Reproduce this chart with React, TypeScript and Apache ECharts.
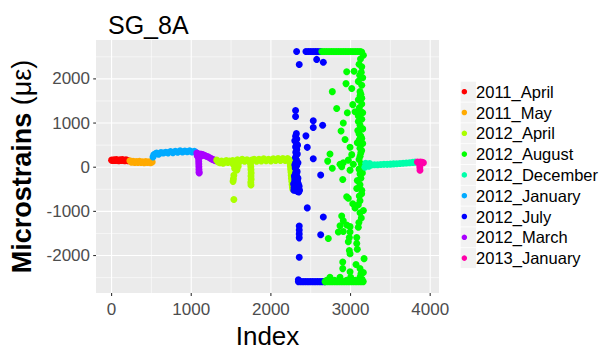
import React, { useEffect, useRef } from 'react';
import * as echarts from 'echarts';

const FONT = 'Liberation Sans, Arial, Helvetica, sans-serif';

// legend order (alphabetical, as in the reference) and colours
const legendOrder = ['2011_April', '2011_May', '2012_April', '2012_August', '2012_December', '2012_January', '2012_July', '2012_March', '2013_January'];
const legendColors = ['#FF0000', '#FFAA00', '#AAFF00', '#00FF00', '#00FFAA', '#00AAFF', '#0000FF', '#AA00FF', '#FF00AA'];
// drawing order (chronological, later points on top)
const drawOrder = ['2011_April', '2011_May', '2012_January', '2012_March', '2012_April', '2012_July', '2012_August', '2012_December', '2013_January'];

// tick values
const xMajorTicks = [0, 1000, 2000, 3000, 4000];
const xMinorTicks = [500, 1500, 2500, 3500];
const yMajorTicks = [-2000, -1000, 0, 1000, 2000];
const yMinorTicks = [-2500, -1500, -500, 500, 1500, 2500];

// [index, microstrain]
const apr2011 = [[0, 160], [15, 150], [30, 170], [45, 150], [60, 175], [75, 155], [90, 145], [105, 170], [120, 150], [135, 175], [150, 155], [165, 145], [180, 170], [195, 155], [205, 145]];
const may2011 = [[230, 145], [250, 115], [270, 135], [290, 105], [310, 130], [330, 110], [350, 135], [370, 105], [390, 125], [410, 100], [430, 130], [450, 105], [470, 125], [490, 100], [510, 120]];
const jan2012 = [[520, 230], [530, 280], [545, 300], [565, 320], [590, 295], [620, 330], [650, 320], [680, 340], [710, 325], [740, 355], [770, 330], [800, 360], [830, 340], [860, 370], [890, 345], [920, 365], [950, 350], [980, 370], [1010, 345], [1040, 360], [1060, 330]];
const mar2012 = [[1070, 320], [1075, 260], [1085, 300], [1090, 250], [1092, 190], [1094, 130], [1095, 70], [1096, 10], [1097, -50], [1098, -110], [1100, -130], [1100, 270], [1110, 300], [1120, 250], [1130, 290], [1150, 280], [1170, 265], [1190, 250], [1210, 235], [1230, 215], [1250, 195], [1270, 175], [1290, 160], [1310, 145]];
const apr2012 = [[1320, 160], [1340, 120], [1360, 100], [1380, 140], [1400, 90], [1420, 120], [1440, 150], [1460, 110], [1480, 140], [1500, 120], [1520, 150], [1550, 130], [1580, 170], [1610, 130], [1640, 180], [1670, 135], [1700, 170], [1730, 125], [1760, 160], [1790, 180], [1820, 135], [1850, 180], [1880, 140], [1910, 190], [1940, 145], [1970, 180], [2000, 140], [2030, 190], [2060, 150], [2090, 195], [2120, 150], [2150, 195], [2180, 155], [2210, 195], [2235, 165], [2250, 140],
  [1530, 60], [1560, 40], [1590, 20], [1545, -30], [1575, -60], [1535, -180], [1530, -260], [1525, -320], [1535, -730],
  [1745, 80], [1748, 10], [1750, -60], [1752, -130], [1750, -200], [1752, -270], [1748, -340], [1750, -400],
  [2240, 100], [2245, 30], [2248, -40], [2252, -110], [2255, -180], [2258, -250], [2262, -320], [2266, -390], [2270, -450], [2275, -500]];
const jul2012 = [[2320, 760], [2310, 700], [2325, 640], [2300, 600], [2312, 580], [2322, 520], [2335, 500], [2310, 460], [2325, 400], [2312, 340], [2332, 300], [2320, 280], [2308, 220], [2322, 160], [2310, 100], [2340, 100], [2300, 50], [2325, 40], [2305, -20], [2320, -80], [2330, -100], [2308, -140], [2295, -200], [2325, -200], [2340, -250], [2300, -250], [2318, -290], [2300, -300], [2335, -320], [2300, -350], [2285, -380], [2345, -380], [2320, -390], [2340, -410], [2355, -430], [2305, -440], [2290, -460], [2325, -470], [2345, -490], [2288, -520], [2310, -520], [2360, -520], [2335, -550], [2350, -560],
  [2323, 2620], [2440, 2620], [2470, 2620], [2500, 2620], [2530, 2620], [2560, 2620], [2590, 2620], [2625, 2620],
  [2356, 2325], [2575, 2441], [2658, 2375], [2310, 1285], [2310, 1150], [2532, 1053], [2532, 900], [2650, 950], [2440, 710], [2457, 450], [2532, 190], [2625, -175], [2457, -921], [2658, -1127],
  [2356, -1330], [2356, -1420], [2356, -1510], [2356, -1600], [2625, -1528], [2356, -2040], [2345, -2550],
  [2345, -2590], [2375, -2590], [2405, -2590], [2435, -2590], [2465, -2590], [2495, -2590], [2525, -2590], [2555, -2590], [2585, -2590], [2615, -2590], [2645, -2590], [2675, -2590]];
const aug2012 = [[2640, 2620], [2670, 2620], [2700, 2620], [2730, 2620], [2760, 2620], [2790, 2620], [2820, 2620], [2850, 2620], [2880, 2620], [2910, 2620], [2940, 2620], [2970, 2620], [3000, 2620], [3030, 2620], [3060, 2620], [3090, 2620], [3120, 2620], [3140, 2610],
  [3161, 2535], [3107, 2331], [3141, 2272], [2952, 2162], [3044, 2171], [3153, 2024], [3098, 1943], [2943, 1893], [3015, 1783], [3141, 1855], [2771, 1711], [3119, 1711], [3141, 1564], [3098, 1526], [3028, 1417], [3141, 1432], [2826, 1329], [3110, 1344], [2960, 1235], [3057, 1257], [3153, 1235], [3098, 1162], [3141, 1088], [3098, 1037], [2909, 1000], [2881, 818], [3091, 833], [3153, 868], [3107, 759], [2931, 627], [3141, 649], [3085, 555], [3153, 539], [2994, 452], [3119, 430], [2742, 298], [3015, 285], [3128, 320], [2713, 138], [2868, 66], [2909, 101], [2972, 160], [3035, 66], [2771, -22], [2889, 13], [2994, -66], [3107, 175], [3107, -44], [3149, -132],
  [3119, -154], [2902, -279], [3085, -300], [3119, -395], [3078, -482], [3141, -520], [2952, -667], [2972, -702], [3119, -761], [3028, -827], [3098, -849], [3057, -921], [3161, -980], [3119, -1031], [2889, -1105], [2909, -1215], [2868, -1325], [2952, -1309], [2994, -1346], [3098, -1360], [2909, -1456], [2994, -1469], [2847, -1469], [2721, -1616], [2985, -1594], [3078, -1594], [2972, -1689], [3078, -1726], [2985, -1886], [3085, -1857], [2994, -1961], [3170, -2070], [2902, -2149], [3069, -2202], [2902, -2296], [3119, -2296], [2994, -2368], [3161, -2384], [2868, -2493], [3002, -2493], [3119, -2493], [2742, -2493],
  [3125, 2450], [3135, 2150], [3115, 2080], [3130, 1650], [3120, 1620], [3135, 1250], [3120, 950], [3130, 700], [3110, 620], [3140, 380], [3120, 250], [3135, 80], [3145, -30], [3130, -250], [3140, -600], [3110, -650], [3135, -1150], [3105, -1250], [3130, -2420], [3145, -2540], [2700, -2560], [2800, -2560], [2950, -2560], [3060, -2560],
  [2680, -2590], [2710, -2590], [2740, -2590], [2770, -2590], [2800, -2590], [2830, -2590], [2860, -2590], [2890, -2590], [2920, -2590], [2950, -2590], [2980, -2590], [3010, -2590], [3040, -2590], [3070, -2590], [3100, -2590], [3130, -2590], [3160, -2590]];
const dec2012 = [[3180, 0], [3190, 90], [3200, 40], [3230, 20], [3240, 85], [3260, 50], [3300, 55], [3340, 55], [3380, 60], [3420, 65], [3460, 65], [3500, 70], [3540, 75], [3580, 80], [3620, 85], [3660, 90], [3700, 95], [3740, 100], [3780, 110], [3810, 115]];
const jan2013 = [[3840, 120], [3860, 110], [3880, 120], [3900, 110], [3915, 100], [3868, 60], [3870, 0], [3872, -70]];

const seriesData: Record<string, number[][]> = {
  '2011_April': apr2011,
  '2011_May': may2011,
  '2012_January': jan2012,
  '2012_March': mar2012,
  '2012_April': apr2012,
  '2012_July': jul2012,
  '2012_August': aug2012,
  '2012_December': dec2012,
  '2013_January': jan2013,
};

export default function App() {
  const ref = useRef<HTMLDivElement>(null);
  useEffect(() => {
    if (!ref.current) return;
    const chart = echarts.init(ref.current, null, { renderer: 'svg' });

    const all = drawOrder.flatMap((n) => seriesData[n]);
    const xs = all.map((p) => p[0]);
    const ys = all.map((p) => p[1]);
    const xLo = Math.min(...xs), xHi = Math.max(...xs);
    const yLo = Math.min(...ys), yHi = Math.max(...ys);
    const xPad = (xHi - xLo) * 0.05, yPad = (yHi - yLo) * 0.05;

    const guideData: number[][] = [
      ...xMinorTicks.map((v) => [v, 0, 0, 0]),
      ...xMajorTicks.map((v) => [v, 0, 0, 1]),
      ...yMinorTicks.map((v) => [0, v, 1, 0]),
      ...yMajorTicks.map((v) => [0, v, 1, 1]),
    ];

    const fmt = (v: number) => (Math.abs(v % 1000) < 1e-6 ? String(v) : '');

    const scatterSeries = drawOrder.map((name) => ({
      type: 'scatter',
      name,
      data: seriesData[name],
      symbol: 'circle',
      symbolSize: 7,
      itemStyle: { color: legendColors[legendOrder.indexOf(name)], opacity: 1 },
      z: 3,
      silent: true,
    }));

    const keyRects = legendOrder.map((_, i) => ({
      type: 'rect',
      shape: { x: 460.7, y: 81.7 + i * 20.8, width: 15.3, height: 20 },
      style: { fill: '#F2F2F2' },
      silent: true,
    }));

    chart.setOption({
      animation: false,
      backgroundColor: '#FFFFFF',
      textStyle: { fontFamily: FONT },
      title: {
        text: 'SG_8A',
        left: 103,
        top: 7,
        textStyle: { fontSize: 25, fontWeight: 'normal', color: '#000000', fontFamily: FONT },
      },
      grid: {
        left: 96, top: 40, width: 343, height: 262,
        show: true, backgroundColor: '#EBEBEB', borderWidth: 0,
      },
      graphic: keyRects,
      legend: {
        data: legendOrder,
        orient: 'vertical',
        left: 461.6,
        top: 81.7,
        padding: 0,
        itemWidth: 13.4,
        itemHeight: 5.5,
        itemGap: 0.8,
        icon: 'circle',
        selectedMode: false,
        textStyle: { fontSize: 16.5, color: '#000000', fontFamily: FONT, lineHeight: 20 },
      },
      xAxis: {
        type: 'value',
        min: xLo - xPad,
        max: xHi + xPad,
        name: 'Index',
        nameLocation: 'middle',
        nameGap: 23,
        nameTextStyle: { fontSize: 26, color: '#000000', fontFamily: FONT },
        axisLine: { show: false },
        axisTick: { show: false },
        splitLine: { show: false },
        axisLabel: { color: '#4D4D4D', fontSize: 17, margin: 8, formatter: fmt, fontFamily: FONT },
      },
      yAxis: {
        type: 'value',
        min: yLo - yPad,
        max: yHi + yPad,
        name: '{b|Microstrains} {r|(με)}',
        nameLocation: 'middle',
        nameRotate: 90,
        nameGap: 58,
        nameTextStyle: {
          fontSize: 27, color: '#000000', fontFamily: FONT,
          rich: {
            b: { fontSize: 27, fontWeight: 'bold', color: '#000000', fontFamily: FONT },
            r: { fontSize: 27, fontWeight: 'normal', color: '#000000', fontFamily: FONT },
          },
        },
        axisLine: { show: false },
        axisTick: { show: false },
        splitLine: { show: false },
        axisLabel: { color: '#4D4D4D', fontSize: 17, margin: 6, formatter: fmt, fontFamily: FONT },
      },
      series: [
        {
          type: 'custom',
          name: 'guides',
          data: guideData,
          z: 1,
          silent: true,
          clip: false,
          encode: { x: 0, y: 1 },
          renderItem: (params: any, api: any) => {
            const cs = params.coordSys;
            const orient = api.value(2);
            const major = api.value(3) === 1;
            const w = major ? 1.1 : 0.55;
            const children: any[] = [];
            if (orient === 0) {
              const x = api.coord([api.value(0), 0])[0];
              children.push({ type: 'line', shape: { x1: x, y1: cs.y, x2: x, y2: cs.y + cs.height }, style: { stroke: '#FFFFFF', lineWidth: w } });
              if (major) children.push({ type: 'line', shape: { x1: x, y1: cs.y + cs.height, x2: x, y2: cs.y + cs.height + 2.8 }, style: { stroke: '#333333', lineWidth: 1.1 } });
            } else {
              const y = api.coord([0, api.value(1)])[1];
              children.push({ type: 'line', shape: { x1: cs.x, y1: y, x2: cs.x + cs.width, y2: y }, style: { stroke: '#FFFFFF', lineWidth: w } });
              if (major) children.push({ type: 'line', shape: { x1: cs.x - 2.8, y1: y, x2: cs.x, y2: y }, style: { stroke: '#333333', lineWidth: 1.1 } });
            }
            return { type: 'group', children };
          },
        },
        ...scatterSeries,
      ],
    } as any);

    return () => chart.dispose();
  }, []);

  return <div ref={ref} style={{ position: 'fixed', left: 0, top: 0, width: 606, height: 354 }} />;
}
